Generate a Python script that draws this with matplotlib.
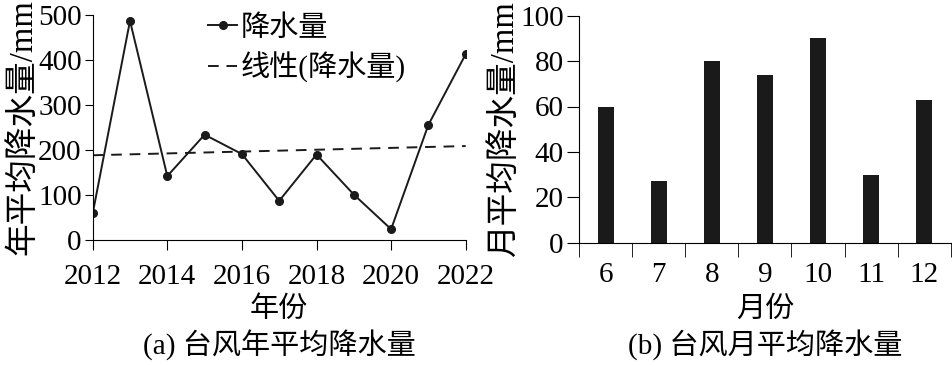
import numpy as np
import matplotlib.pyplot as plt
from matplotlib.lines import Line2D

plt.rcParams['font.family'] = ['Liberation Serif', 'Noto Sans CJK SC']
plt.rcParams['font.size'] = 21

# 年平均降水量
years = [2012, 2013, 2014, 2015, 2016, 2017, 2018, 2019, 2020, 2021, 2022]
rain_year = [59, 487, 142, 234, 191, 87, 190, 101, 24, 256, 413]

# 月平均降水量
months = ['6', '7', '8', '9', '10', '11', '12']
rain_month = [60, 27, 80, 74, 90, 30, 63]

ink = '#1a1a1a'
dash = (0, (5.5, 4))

fig = plt.figure(figsize=(9.52, 3.65), dpi=100)

# (a) 年平均降水量
ax1 = fig.add_axes([92.7 / 952, 125 / 365, 373 / 952, 225 / 365])
ax1.plot(years, rain_year, color=ink, lw=1.4, marker='o', ms=5.5)
coef = np.polyfit(years, rain_year, 1)
fit_x = [years[0], years[-1]]
ax1.plot(fit_x, np.polyval(coef, fit_x), color=ink, lw=1.4, linestyle=dash)
ax1.set_xlim(2012, 2022)
ax1.set_ylim(0, 500)
ax1.set_xticks(range(2012, 2023, 2))
ax1.set_yticks(range(0, 501, 100))
ax1.spines[['top', 'right']].set_visible(False)
ax1.tick_params(axis='y', length=6, pad=2)
ax1.tick_params(axis='x', length=7, pad=10)
ax1.set_ylabel('年平均降水量/mm', fontsize=23.5, labelpad=0)
ax1.set_xlabel('年份', labelpad=5)

handles = [
    Line2D([], [], color=ink, lw=1.4, marker='o', ms=5.5),
    Line2D([], [], color=ink, lw=1.4, linestyle=dash),
]
ax1.legend(handles, ['降水量', '线性(降水量)'], loc='upper left',
           bbox_to_anchor=(0.31, 1.0), frameon=False, handlelength=1.0,
           handletextpad=0.1, borderaxespad=0, borderpad=0, labelspacing=0.35)
fig.text(279 / 952, 1 - 345 / 365, '(a) 台风年平均降水量', ha='center', va='center')

# (b) 月平均降水量
ax2 = fig.add_axes([579 / 952, 122.3 / 365, 371.7 / 952, 227 / 365])
x = np.arange(len(months))
ax2.bar(x, rain_month, width=0.3, color=ink)
ax2.set_xlim(-0.5, len(months) - 0.5)
ax2.set_ylim(0, 100)
ax2.set_yticks(range(0, 101, 20))
ax2.set_xticks(x)
ax2.set_xticklabels(months)
ax2.set_xticks(np.arange(-0.5, len(months), 1.0), minor=True)
ax2.tick_params(axis='x', which='major', length=0, pad=14)
ax2.tick_params(axis='x', which='minor', length=10)
ax2.tick_params(axis='y', length=9, pad=2)
ax2.spines[['top', 'right']].set_visible(False)
ax2.set_ylabel('月平均降水量/mm', fontsize=23.5, labelpad=0)
ax2.set_xlabel('月份', labelpad=6)
fig.text(765 / 952, 1 - 345 / 365, '(b) 台风月平均降水量', ha='center', va='center')

fig.savefig('out.png', dpi=100)
